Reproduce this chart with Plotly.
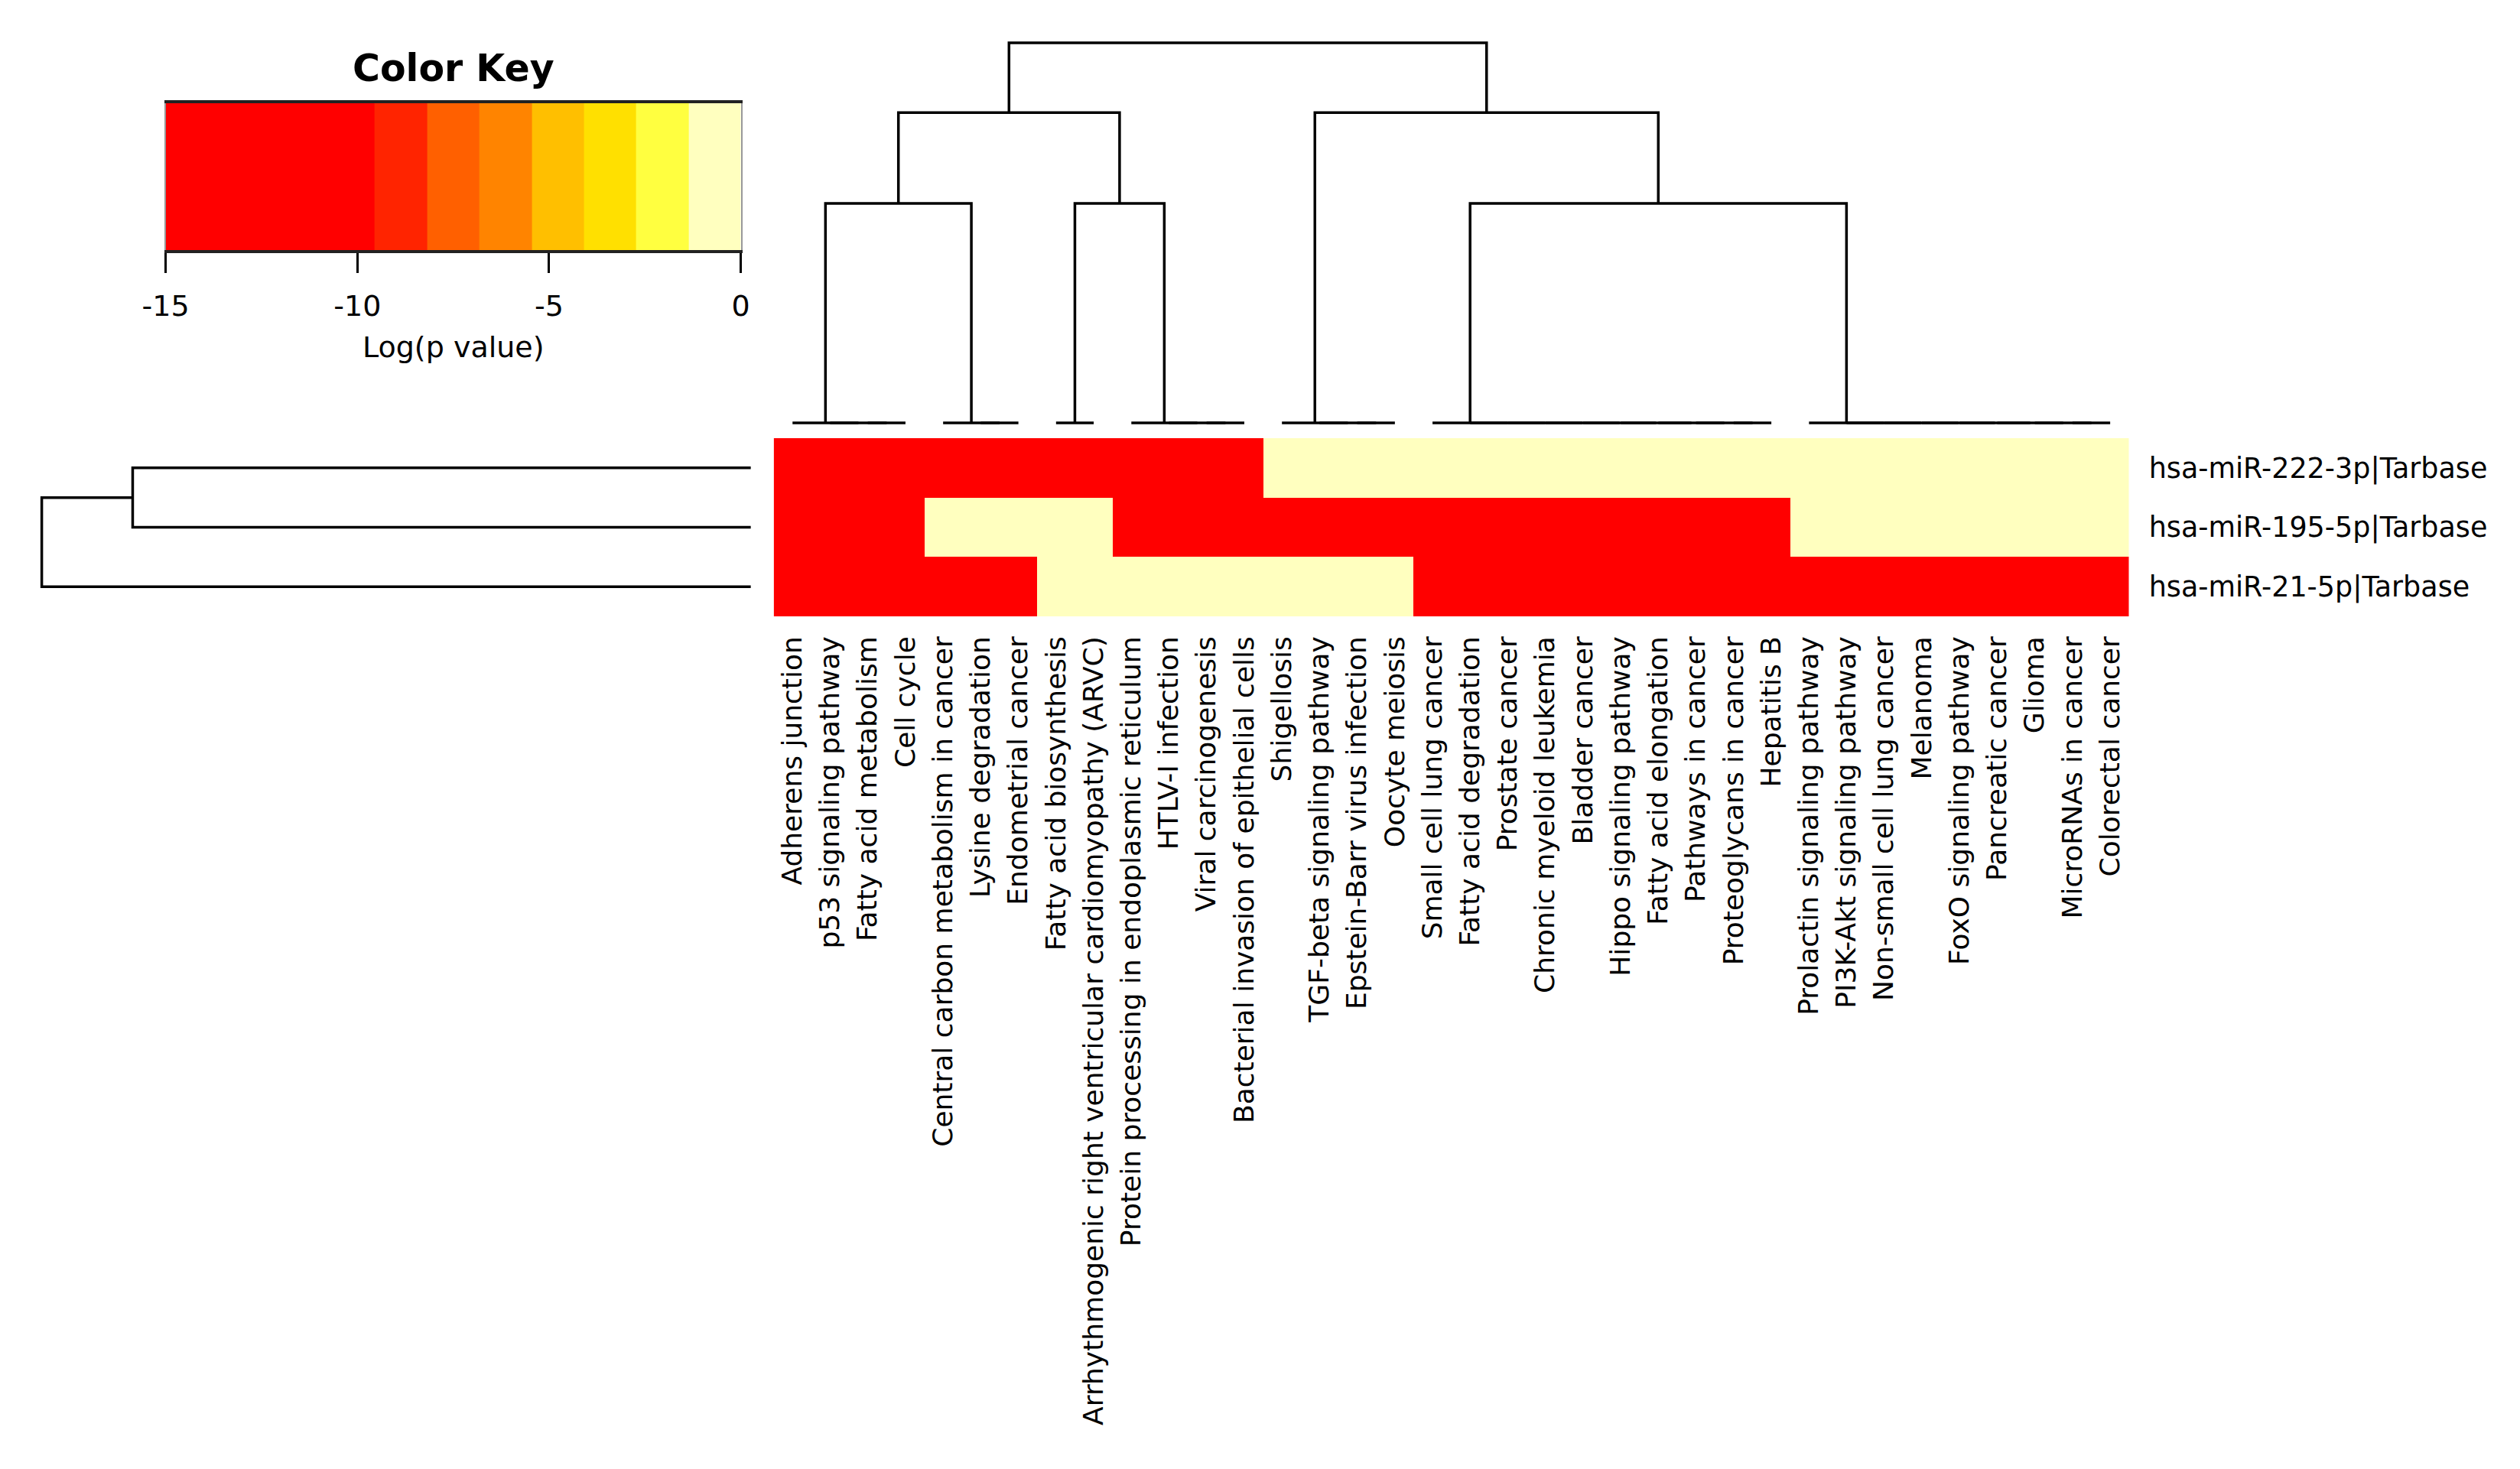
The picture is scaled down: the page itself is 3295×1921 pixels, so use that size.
import plotly.graph_objects as go
import numpy as np

# ---------------- data ----------------
col_labels = [
    "Adherens junction", "p53 signaling pathway", "Fatty acid metabolism", "Cell cycle",
    "Central carbon metabolism in cancer", "Lysine degradation", "Endometrial cancer",
    "Fatty acid biosynthesis", "Arrhythmogenic right ventricular cardiomyopathy (ARVC)",
    "Protein processing in endoplasmic reticulum", "HTLV-I infection", "Viral carcinogenesis",
    "Bacterial invasion of epithelial cells", "Shigellosis", "TGF-beta signaling pathway",
    "Epstein-Barr virus infection", "Oocyte meiosis", "Small cell lung cancer",
    "Fatty acid degradation", "Prostate cancer", "Chronic myeloid leukemia", "Bladder cancer",
    "Hippo signaling pathway", "Fatty acid elongation", "Pathways in cancer",
    "Proteoglycans in cancer", "Hepatitis B", "Prolactin signaling pathway",
    "PI3K-Akt signaling pathway", "Non-small cell lung cancer", "Melanoma",
    "FoxO signaling pathway", "Pancreatic cancer", "Glioma", "MicroRNAs in cancer",
    "Colorectal cancer",
]
row_labels = ["hsa-miR-222-3p|Tarbase", "hsa-miR-195-5p|Tarbase", "hsa-miR-21-5p|Tarbase"]

R, P = -15, 0  # log(p value): significant (red) / not significant (pale)
mir222 = [R]*13 + [P]*23
mir195 = [R]*4 + [P]*5 + [R]*18 + [P]*9
mir21 = [R]*7 + [P]*10 + [R]*19

key_breaks = [-15, -9.55, -8.18, -6.82, -5.45, -4.09, -2.73, -1.36, 0]
key_colors = ["#FF0000", "#FF2400", "#FF6000", "#FF8400", "#FFBF00", "#FFE000", "#FFFF40", "#FFFFBF"]
key_ticks = [-15, -10, -5, 0]

# dendrogram structure (merge order)
def chain(ids):
    return ids[0] if len(ids) == 1 else (ids[0], chain(ids[1:]))

col_tree = (
    ((chain(list(range(0, 4))), chain(list(range(4, 7)))),
     (chain(list(range(7, 9))), chain(list(range(9, 13))))),
    (chain(list(range(13, 17))),
     (chain(list(range(17, 27))), chain(list(range(27, 36))))),
)
row_tree = ((0, 1), 2)

# ---------------- helpers ----------------
W, H = 3295, 1921
FONT = "DejaVu Sans"
Z = np.array([mir222, mir195, mir21], dtype=float)


def leaves(node):
    if isinstance(node, tuple):
        return leaves(node[0]) + leaves(node[1])
    return [node]


def layout_tree(node, vecs, segs):
    if not isinstance(node, tuple):
        return float(node), 0.0
    pl, hl = layout_tree(node[0], vecs, segs)
    pr, hr = layout_tree(node[1], vecs, segs)
    L, Rr = leaves(node[0]), leaves(node[1])
    h = max(np.linalg.norm(vecs[a] - vecs[b]) for a in L for b in Rr)
    segs.append([(pl, hl), (pl, h), (pr, h), (pr, hr)])
    return (pl + pr) / 2, h


col_segs, row_segs = [], []
_, col_max = layout_tree(col_tree, Z.T, col_segs)
_, row_max = layout_tree(row_tree, Z, row_segs)


def seg_xy(segs, swap=False):
    xs, ys = [], []
    for s in segs:
        for p, h in s:
            if swap:
                xs.append(h); ys.append(p)
            else:
                xs.append(p); ys.append(h)
        xs.append(None); ys.append(None)
    return xs, ys


cs = []
for i, c in enumerate(key_colors):
    cs.append([(key_breaks[i] + 15) / 15, c])
    cs.append([(key_breaks[i + 1] + 15) / 15, c])

# horizontal placement calibrated to the page photograph
X_OFF, X_SCALE = 29.4, 0.9869


def hx(p):
    return (p - X_OFF) / X_SCALE / W


def dx(a, b):
    return [hx(a), hx(b)]


def dy(top, bottom):
    return [1 - bottom / H, 1 - top / H]


hm_l, hm_r, hm_t, hm_b = 1010, 2782, 573, 806
cd_top, cd_base = 56, 553
rd_left, rd_base = 53, 980
key_l, key_r, key_t, key_b = 215, 967, 135, 327
pad = 6

fig = go.Figure()

fig.add_trace(go.Heatmap(
    z=Z, x=list(range(len(col_labels))), y=list(range(len(row_labels))),
    colorscale=cs, zmin=-15, zmax=0, showscale=False, xaxis="x", yaxis="y",
    hoverinfo="skip"))

k_c = (cd_base - cd_top) / col_max
xs, ys = seg_xy(col_segs)
fig.add_trace(go.Scatter(x=xs, y=ys, mode="lines", line=dict(color="black", width=3.5),
                         xaxis="x2", yaxis="y2", hoverinfo="skip", showlegend=False))

k_r = (rd_base - rd_left) / X_SCALE / row_max
xs, ys = seg_xy(row_segs, swap=True)
fig.add_trace(go.Scatter(x=xs, y=ys, mode="lines", line=dict(color="black", width=3.5),
                         xaxis="x3", yaxis="y3", hoverinfo="skip", showlegend=False))

key_mid = [(key_breaks[i] + key_breaks[i + 1]) / 2 for i in range(len(key_colors))]
fig.add_trace(go.Heatmap(
    z=[key_mid], x=key_breaks, y=[0, 1], colorscale=cs, zmin=-15, zmax=0,
    showscale=False, xaxis="x4", yaxis="y4", hoverinfo="skip"))

ncol = len(col_labels)
rd_dom = [hx(rd_left) - pad / W, hx(rd_base) + pad / W]
fig.update_layout(
    width=W, height=H, margin=dict(l=0, r=0, t=0, b=0),
    paper_bgcolor="white", plot_bgcolor="white", showlegend=False,
    font=dict(family=FONT, size=36, color="black"),
    xaxis=dict(domain=dx(hm_l, hm_r), range=[-0.5, ncol - 0.5], tickvals=list(range(ncol)),
               ticktext=col_labels, tickangle=-90, ticks="", showgrid=False, zeroline=False,
               showline=False, ticklabelstandoff=18, tickfont=dict(size=36, family=FONT)),
    yaxis=dict(domain=dy(hm_t, hm_b), range=[2.5, -0.5], tickvals=[0, 1, 2], ticktext=row_labels,
               side="right", ticks="", showgrid=False, zeroline=False, showline=False,
               ticklabelstandoff=25, tickfont=dict(size=36.5, family=FONT)),
    xaxis2=dict(domain=dx(hm_l, hm_r), range=[-0.5, ncol - 0.5], visible=False, anchor="y2"),
    yaxis2=dict(domain=dy(cd_top - pad, cd_base + pad),
                range=[-pad / k_c, col_max + pad / k_c], visible=False, anchor="x2"),
    xaxis3=dict(domain=rd_dom, range=[row_max + pad / k_r, -pad / k_r], visible=False,
                anchor="y3"),
    yaxis3=dict(domain=dy(hm_t, hm_b), range=[2.5, -0.5], visible=False, anchor="x3"),
    xaxis4=dict(domain=dx(key_l, key_r), range=[-15, 0], anchor="y4", tickvals=key_ticks,
                ticktext=[str(t) for t in key_ticks], ticks="outside", ticklen=26, tickwidth=2.5,
                tickcolor="black", showline=True, linewidth=4, linecolor="#222", mirror=True,
                showgrid=False, zeroline=False, ticklabelstandoff=10,
                tickfont=dict(size=38, family=FONT)),
    yaxis4=dict(domain=dy(key_t, key_b), range=[0, 1], anchor="x4", showticklabels=False,
                ticks="", showgrid=False, zeroline=False, showline=True, linewidth=1.5,
                linecolor="#999", mirror=True),
    annotations=[
        dict(text="<b>Color Key</b>", x=hx((key_l + key_r) / 2), y=1 - 89 / H, xref="paper",
             yref="paper", showarrow=False, font=dict(size=49, family=FONT),
             xanchor="center", yanchor="middle"),
        dict(text="Log(p value)", x=hx((key_l + key_r) / 2), y=1 - 454 / H, xref="paper",
             yref="paper", showarrow=False, font=dict(size=38, family=FONT),
             xanchor="center", yanchor="middle"),
    ],
)

fig.write_html("out.html", config={"displayModeBar": False},
               post_script="document.body.style.margin='0px';")
